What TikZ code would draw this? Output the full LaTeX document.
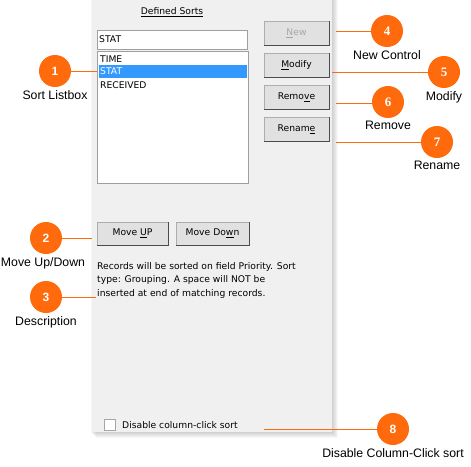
\documentclass[tikz,border=0pt]{standalone}
\usepackage{fontspec}
\setmainfont{Liberation Sans}
\newfontfamily\uifont{DejaVu Sans}
\newfontfamily\numserif{Liberation Serif}
\usetikzlibrary{positioning}

\definecolor{callout}{HTML}{FF6A0D}
\definecolor{panelbg}{HTML}{F0F0F0}
\definecolor{btnbg}{HTML}{E1E1E1}
\definecolor{btnline}{HTML}{ADADAD}
\definecolor{selblue}{HTML}{3399FF}

\tikzset{
  bubble/.style={circle, fill=callout, minimum size=32pt, inner sep=0pt, text=white,
    font=\bfseries\fontsize{12}{12}\selectfont},
  bubtext/.style={font=\fontsize{12.3}{14}\selectfont, inner sep=1pt},
  leader/.style={draw=callout, line width=1pt},
  winbtn/.style={draw=btnline, fill=btnbg, minimum width=65pt, minimum height=24pt,
    inner sep=0pt, font=\uifont\fontsize{9.2}{10}\selectfont},
  uitext/.style={font=\uifont\fontsize{9.2}{13.5}\selectfont, inner sep=0pt},
}

\begin{document}
\begin{tikzpicture}[x=1pt,y=-1pt]
    \def\PL{92}  % panel left
    \def\PR{332} % panel right
    \def\PB{432} % panel bottom
    \def\BX{296.5} % button column

    \useasboundingbox[fill=white] (0,0) rectangle (471,466);

    % Panel with soft shadow
    \foreach \s in {1,...,6} {
        \fill[black,opacity=0.03] (\PL+\s-2,0) rectangle (\PR+\s,\PB+\s);
    }
    \fill[panelbg] (\PL,0) rectangle (\PR,\PB);

    % Defined sorts list
    \node[uitext] (title) at (172,12) {\underline{Defined Sorts}};
    \node[draw=gray!75, fill=white, minimum width=150pt, minimum height=19pt, inner sep=0pt]
        (sortedit) at (172,39.5) {};
    \node[uitext, anchor=west] (edittext) at (99,39.5) {STAT};
    \node[draw=gray!75, fill=white, minimum width=151pt, minimum height=132pt, inner sep=0pt]
        (listbox) at (172.5,117) {};
    \fill[selblue] (98.5,65) rectangle (246.5,78);
    \node[uitext, anchor=west] (itemtime) at (100,59) {TIME};
    \node[uitext, anchor=west, text=white] (itemstat) at (100,71.5) {STAT};
    \node[uitext, anchor=west] (itemrec) at (100,85) {RECEIVED};

    % Buttons
    \node[winbtn, text=gray!70] (btnnew) at (\BX,33.5) {\underline{N}ew};
    \node[winbtn] (btnmodify) at (\BX,65.5) {\underline{M}odify};
    \node[winbtn] (btnremove) at (\BX,97) {Remo\underline{v}e};
    \node[winbtn] (btnrename) at (\BX,129) {Renam\underline{e}};
    \node[winbtn, minimum width=71pt, minimum height=23pt] (btnup) at (132.5,233.5) {Move \underline{U}P};
    \node[winbtn, minimum width=73pt, minimum height=23pt] (btndown) at (212.5,233.5) {Move Do\underline{w}n};
    \foreach \b in {btnnew,btnmodify,btnremove,btnrename,btnup,btndown} {
        \draw[gray!60!black, line width=0.8pt] (\b.south west) -- (\b.south east) -- (\b.north east);
    }

    % Description and checkbox
    \node[uitext, anchor=north west, align=left] (desc) at (97,262)
        {Records will be sorted on field Priority. Sort\\type: Grouping. A space will NOT be\\inserted at end of matching records.};
    \node[draw=gray!70, fill=white, minimum size=11pt, inner sep=0pt] (chkbox) at (110,425) {};
    \node[uitext, anchor=west] (chktext) at (122,425) {Disable column-click sort};

    % Callouts
    \node[bubble] (c1) at (55,71) {1};
    \node[bubble] (c2) at (46,238) {2};
    \node[bubble] (c3) at (46,297) {3};
    \node[bubble, font=\numserif\bfseries\fontsize{13}{13}\selectfont] (c4) at (387,31) {4};
    \node[bubble, font=\numserif\bfseries\fontsize{13}{13}\selectfont] (c5) at (444,72) {5};
    \node[bubble, font=\numserif\bfseries\fontsize{13}{13}\selectfont] (c6) at (388,102) {6};
    \node[bubble, font=\numserif\bfseries\fontsize{13}{13}\selectfont] (c7) at (437,142) {7};
    \node[bubble] (c8) at (393,429) {8};

    \node[bubtext, below=2pt of c1] (l1) {Sort Listbox};
    \node[bubtext, below=2pt of c2, xshift=-3pt] (l2) {Move Up/Down};
    \node[bubtext, below=2pt of c3] (l3) {Description};
    \node[bubtext, below=2pt of c4] (l4) {New Control};
    \node[bubtext, below=2pt of c5] (l5) {Modify};
    \node[bubtext, below=2pt of c6] (l6) {Remove};
    \node[bubtext, below=2pt of c7] (l7) {Rename};
    \node[bubtext, below=2pt of c8] (l8) {Disable Column-Click sort};

    % Leader lines
    \coordinate (e1) at (listbox.west |- c1);
    \coordinate (e2) at (\PL,238);
    \coordinate (e3) at (96,297);
    \coordinate (e4) at (336,31);
    \coordinate (e5) at (\PR,72);
    \coordinate (e6) at (336,103);
    \coordinate (e7) at (336,142);
    \coordinate (e8) at (264,429);
    \draw[leader] (c1.east) -- (e1);
    \draw[leader] (c2.east) -- (e2);
    \draw[leader] (c3.east) -- (e3);
    \foreach \n in {4,...,8} {
        \draw[leader] (e\n) -- (c\n.west |- e\n);
    }
\end{tikzpicture}
\end{document}
